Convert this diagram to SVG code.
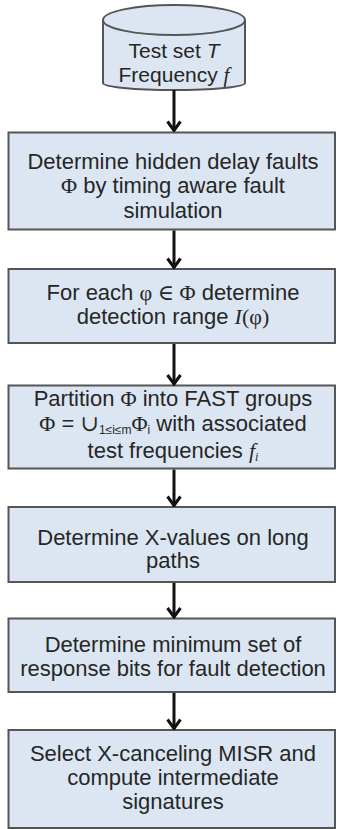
<svg xmlns="http://www.w3.org/2000/svg" width="337" height="829" viewBox="0 0 337 829">
<style>
.box{fill:#dce6f2;stroke:#555;stroke-width:2}
.t{font-family:"Liberation Sans","DejaVu Sans",sans-serif;font-size:22px;fill:#262626;text-anchor:middle}
.c{font-size:21px}
.m{font-family:"Liberation Serif","DejaVu Serif",serif}
.i{font-style:italic}
.conn line{stroke:#111;stroke-width:3}
</style>
<defs>
<marker id="ah" markerUnits="userSpaceOnUse" viewBox="0 0 16 12" refX="8" refY="11" markerWidth="16" markerHeight="12" orient="0">
<path d="M1.5,1.5 L8,10.5 L14.5,1.5" fill="none" stroke="#111" stroke-width="3"/>
</marker>
</defs>
<rect width="337" height="829" fill="#fff"/>
<g id="testset">
<path class="box" d="M103,20 V83 A71,7 0 0 0 245,83 V20"/>
<ellipse class="box" cx="174" cy="20" rx="71" ry="15"/>
<text class="t c" x="174" y="58">Test set <tspan class="i">T</tspan></text>
<text class="t c" x="174" y="82">Frequency <tspan class="m i">f</tspan></text>
</g>
<g id="n1">
<rect class="box" x="8.5" y="132.5" width="326.5" height="97"/>
<text class="t" x="173" y="169">Determine hidden delay faults</text>
<text class="t" x="173" y="193"><tspan class="m">Φ</tspan> by timing aware fault</text>
<text class="t" x="173" y="218">simulation</text>
</g>
<g id="n2">
<rect class="box" x="8.5" y="269" width="326.5" height="74"/>
<text class="t" x="173" y="300">For each <tspan class="m">φ ∈ Φ</tspan> determine</text>
<text class="t" x="173" y="324">detection range <tspan class="m i">I</tspan><tspan class="m">(φ)</tspan></text>
</g>
<g id="n3">
<rect class="box" x="8.5" y="385.5" width="326.5" height="83"/>
<text class="t" x="173" y="406">Partition <tspan class="m">Φ</tspan> into FAST groups</text>
<text class="t" x="173" y="431"><tspan class="m">Φ</tspan> =  <tspan class="m">∪</tspan><tspan font-size="12" dy="3">1≤i≤m</tspan><tspan class="m" dy="-3">Φ</tspan><tspan font-size="12" dy="3">i</tspan><tspan dy="-3"> with associated</tspan></text>
<text class="t" x="173" y="458">test frequencies <tspan class="m i">f</tspan><tspan class="m i" font-size="12" dy="3">i</tspan></text>
</g>
<g id="n4">
<rect class="box" x="8.5" y="507" width="326.5" height="75"/>
<text class="t" x="173" y="545">Determine X-values on long</text>
<text class="t" x="173" y="568">paths</text>
</g>
<g id="n5">
<rect class="box" x="8.5" y="618.5" width="326.5" height="73.5"/>
<text class="t" x="173" y="652">Determine minimum set of</text>
<text class="t" x="173" y="676">response bits for fault detection</text>
</g>
<g id="n6">
<rect class="box" x="8.5" y="730" width="326.5" height="98"/>
<text class="t" x="173" y="761">Select X-canceling MISR and</text>
<text class="t" x="173" y="785">compute intermediate</text>
<text class="t" x="173" y="809">signatures</text>
</g>
<g id="connectors" class="conn">
<line x1="174" y1="90" x2="174" y2="131" marker-end="url(#ah)"/>
<line x1="174" y1="230.5" x2="174" y2="268" marker-end="url(#ah)"/>
<line x1="174" y1="344" x2="174" y2="384.5" marker-end="url(#ah)"/>
<line x1="174" y1="469.5" x2="174" y2="506" marker-end="url(#ah)"/>
<line x1="174" y1="583" x2="174" y2="617.5" marker-end="url(#ah)"/>
<line x1="174" y1="693" x2="174" y2="729" marker-end="url(#ah)"/>
</g>
</svg>
